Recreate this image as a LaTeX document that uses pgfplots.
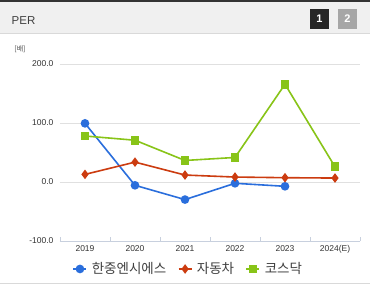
\documentclass[border=0pt]{standalone}
\usepackage{fontspec}
\setmainfont{Liberation Sans}
\newfontfamily\kr{Noto Sans CJK KR}
\usepackage{pgfplots}
\pgfplotsset{compat=1.18}
\definecolor{cblue}{RGB}{42,110,220}
\definecolor{cred}{RGB}{204,60,16}
\definecolor{cgreen}{RGB}{136,196,24}
\definecolor{gridc}{RGB}{224,224,224}
\definecolor{axc}{RGB}{200,208,222}
\begin{document}
\begin{tikzpicture}
\useasboundingbox (0pt,0pt) rectangle (370pt,285pt);
\fill[white] (0pt,0pt) rectangle (370pt,285pt);
% header
\fill[black!6] (0pt,252pt) rectangle (370pt,285pt);
\fill[black!80] (0pt,283pt) rectangle (370pt,285pt);
\draw[black!15,line width=1pt] (0pt,251.5pt) -- (370pt,251.5pt);
\node[anchor=west,font=\fontsize{11.5}{13}\selectfont,text=black!75,inner sep=0pt] at (11.5pt,264.5pt) {PER};
\fill[black!85] (310pt,256pt) rectangle (329pt,276pt);
\node[text=white,font=\bfseries\fontsize{11}{12}\selectfont] at (319.5pt,266pt) {1};
\fill[black!35] (338pt,256pt) rectangle (357pt,276pt);
\node[text=white,font=\bfseries\fontsize{11}{12}\selectfont] at (347.5pt,266pt) {2};
\draw[black!15,line width=1pt] (0pt,1.5pt) -- (370pt,1.5pt);
\node[font=\kr\fontsize{7}{8}\selectfont,text=black!70] at (20pt,236pt) {[배]};
\begin{axis}[
  at={(60pt,44pt)}, anchor=south west,
  scale only axis, width=300pt, height=177pt,
  xmin=-0.5, xmax=5.5, ymin=-100, ymax=200,
  xtick={0,...,5}, xticklabels={2019,2020,2021,2022,2023,2024(E)},
  minor xtick={-0.5,0.5,1.5,2.5,3.5,4.5,5.5},
  ytick={-100,0,100,200},
  yticklabel={\pgfmathprintnumber[fixed,fixed zerofill,precision=1]{\tick}},
  /pgf/number format/assume math mode=true,
  tick label style={font=\fontsize{8.5}{10}\selectfont, text=black!80},
  yticklabel style={xshift=-3pt},
  xticklabel style={yshift=-1pt},
  ymajorgrids, grid style={gridc, line width=0.8pt},
  axis x line*=bottom, axis y line*=left,
  y axis line style={draw=none},
  ytick style={draw=none},
  x axis line style={axc, line width=1pt, -},
  major x tick style={draw=none},
  minor x tick style={axc, line width=0.8pt},
  minor tick length=4pt,
  xtick align=inside,
  clip=false,
  legend style={at={(axis description cs:0.432,-0.158)}, anchor=center, draw=none, fill=none,
    legend columns=-1, font=\kr\fontsize{13.5}{14}\selectfont, text=black!75,
    nodes={inner xsep=4.5pt},
    /tikz/every even column/.append style={column sep=7pt}},
  legend image code/.code={\draw[#1] (0pt,0pt) -- (13pt,0pt); \draw[#1,mark repeat=1,mark phase=1] plot coordinates {(6.5pt,0pt)};},
]
\addplot[cblue, line width=1.6pt, mark=*, mark size=3.5pt, mark options={solid}] coordinates {
(0,99.4) (1,-5.6) (2,-29.8) (3,-2.2) (4,-7.3)};
\addlegendentry{한중엔시에스}
\addplot[cred, line width=1.6pt, mark=diamond*, mark size=3.5pt] coordinates {
(0,12.9) (1,33.7) (2,11.8) (3,8.4) (4,7.3) (5,6.7)};
\addlegendentry{자동차}
\addplot[cgreen, line width=1.6pt, mark=square*, mark size=3.6pt] coordinates {
(0,78) (1,70.8) (2,36.5) (3,41.6) (4,165.7) (5,25.8)};
\addlegendentry{코스닥}
\end{axis}
\end{tikzpicture}
\end{document}
